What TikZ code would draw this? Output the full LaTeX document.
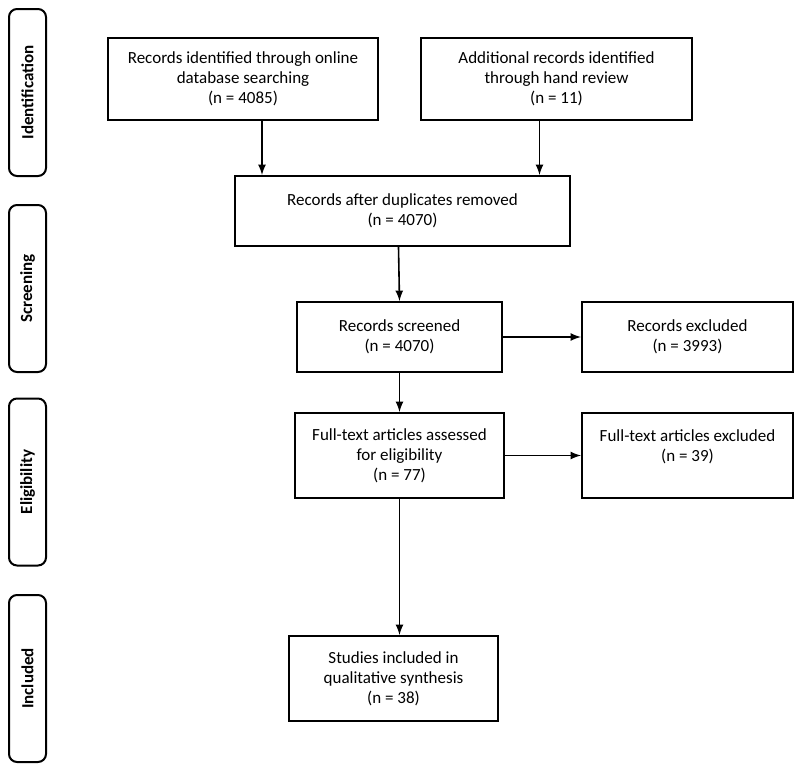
\documentclass[tikz,border=0pt]{standalone}
\usepackage{fontspec}
\setmainfont{Carlito}
\usetikzlibrary{
  positioning,
  arrows
}
\tikzset{
  ->,
  >=latex,
  box/.style={draw, line width=1pt, align=center, inner sep=2pt,
    font=\fontsize{8.5}{10}\selectfont},
  phase/.style={draw, line width=1pt, rounded corners=4pt, rotate=90,
    minimum width=83.5pt, minimum height=18.5pt,
    font=\fontsize{8.5}{10}\selectfont\bfseries}
}

\begin{document}
\begin{tikzpicture}[x=0.5pt, y=-0.5pt, line width=0.8pt]
    \useasboundingbox (0,0) rectangle (800,772);
    % phases
    \node[phase] (pid)   at (27.5,92.5)  {Identification};
    \node[phase] (pscr)  at (27.5,288.5) {Screening};
    \node[phase] (pelig) at (27.5,482)   {Eligibility};
    \node[phase] (pinc)  at (27.5,678.5) {Included};
    % boxes
    \node[box, minimum width=135pt, minimum height=41pt] (online) at (243,79)
      {Records identified through online\\database searching\\(n = 4085)};
    \node[box, minimum width=135.5pt, minimum height=41pt] (hand) at (556.5,79)
      {Additional records identified\\through hand review\\(n = 11)};
    \node[box, minimum width=167.5pt, minimum height=35pt] (dup) at (402.5,211)
      {Records after duplicates removed\\(n = 4070)};
    \node[box, minimum width=102.5pt, minimum height=35pt] (screened) at (399.5,337)
      {Records screened\\(n = 4070)};
    \node[box, minimum width=105.5pt, minimum height=35pt, right=39pt of screened] (excl)
      {Records excluded\\(n = 3993)};
    \node[box, minimum width=104.5pt, minimum height=42.5pt] (full) at (399.5,455.5)
      {Full-text articles assessed\\for eligibility\\(n = 77)};
    \node[box, minimum width=105.5pt, minimum height=42.5pt, right=38pt of full] (ftexcl)
      {Full-text articles excluded\\(n = 39)\\[0pt]};
    \node[box, minimum width=104.5pt, minimum height=42.5pt] (incl) at (393.5,678.5)
      {Studies included in\\qualitative synthesis\\(n = 38)};
    % arrows
    \draw ([xshift=9.5pt]online.south) -- ([xshift=9.5pt]online.south |- dup.north);
    \draw ([xshift=-8.5pt]hand.south) -- ([xshift=-8.5pt]hand.south |- dup.north);
    \draw ([xshift=-2pt]dup.south) -- (screened.north);
    \draw (screened) -- (excl);
    \draw (screened.south) -- (screened.south |- full.north);
    \draw (full) -- (ftexcl);
    \draw (full.south) -- (full.south |- incl.north);
  \end{tikzpicture}
\end{document}
